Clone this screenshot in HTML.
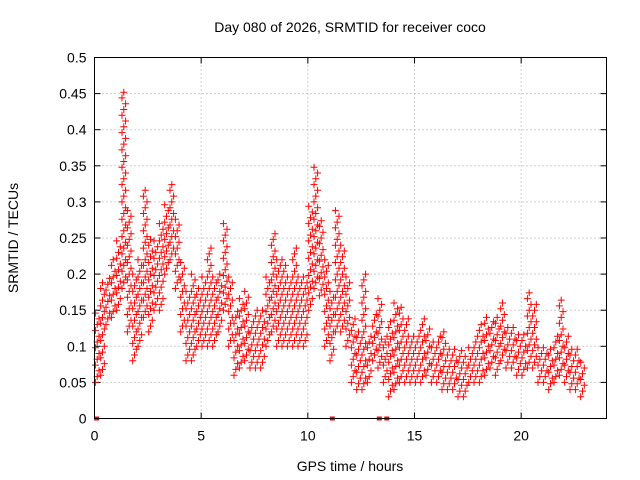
<!DOCTYPE html>
<html><head><meta charset="utf-8"><style>
body{margin:0;background:#fff;}
svg{display:block;font-family:"Liberation Sans",sans-serif;}
</style></head><body>
<svg id="c" width="640" height="480">
<rect width="640" height="480" fill="#fff"/>
<text x="350" y="32" font-size="14" text-anchor="middle">Day 080 of 2026, SRMTID for receiver coco</text>
<text x="350" y="471" font-size="14" text-anchor="middle">GPS time / hours</text>
<text x="18" y="238" font-size="14" text-anchor="middle" transform="rotate(-90 18 238)">SRMTID / TECUs</text>
<g id="grid"></g>
<g id="axes"></g>
<g id="marks"></g>
<rect x="94.5" y="57.5" width="512" height="361" fill="none" stroke="#000"/>
</svg>
<script>
const xTicks=[0,5,10,15,20];
const yTicks=[0,0.05,0.1,0.15,0.2,0.25,0.3,0.35,0.4,0.45,0.5];
const yTickLabels=["0","0.05","0.1","0.15","0.2","0.25","0.3","0.35","0.4","0.45","0.5"];
const binStart=[0,0.25,0.5,0.75,1,1.25,1.5,1.75,2,2.25,2.5,2.75,3,3.25,3.5,3.75,4,4.25,4.5,4.75,5,5.25,5.5,5.75,6,6.25,6.5,6.75,7,7.25,7.5,7.75,8,8.25,8.5,8.75,9,9.25,9.5,9.75,10,10.25,10.5,10.75,11,11.25,11.5,11.75,12,12.25,12.5,12.75,13,13.25,13.5,13.75,14,14.25,14.5,14.75,15,15.25,15.5,15.75,16,16.25,16.5,16.75,17,17.25,17.5,17.75,18,18.25,18.5,18.75,19,19.25,19.5,19.75,20,20.25,20.5,20.75,21,21.25,21.5,21.75,22,22.25,22.5,22.75];
const binLow=[0.05,0.06,0.13,0.14,0.15,0.18,0.12,0.08,0.1,0.14,0.12,0.15,0.15,0.2,0.22,0.18,0.12,0.08,0.08,0.1,0.1,0.1,0.1,0.12,0.15,0.1,0.06,0.07,0.08,0.07,0.07,0.07,0.1,0.12,0.1,0.1,0.1,0.1,0.1,0.1,0.15,0.18,0.17,0.1,0.08,0.12,0.12,0.1,0.05,0.04,0.04,0.05,0.08,0.07,0.05,0.03,0.04,0.05,0.05,0.05,0.05,0.05,0.06,0.05,0.05,0.04,0.04,0.04,0.03,0.03,0.05,0.05,0.05,0.06,0.07,0.06,0.08,0.07,0.07,0.06,0.06,0.07,0.07,0.05,0.05,0.04,0.05,0.06,0.05,0.04,0.04,0.03];
const binHigh=[0.15,0.19,0.2,0.22,0.25,0.46,0.29,0.2,0.22,0.32,0.25,0.25,0.27,0.3,0.33,0.28,0.22,0.18,0.2,0.18,0.2,0.24,0.2,0.2,0.27,0.2,0.15,0.17,0.18,0.14,0.15,0.15,0.2,0.26,0.22,0.22,0.2,0.24,0.2,0.2,0.3,0.35,0.28,0.22,0.18,0.29,0.24,0.2,0.14,0.12,0.2,0.12,0.15,0.17,0.12,0.14,0.16,0.16,0.14,0.12,0.12,0.14,0.13,0.11,0.12,0.12,0.1,0.1,0.1,0.09,0.1,0.12,0.13,0.14,0.14,0.14,0.16,0.13,0.13,0.12,0.12,0.18,0.16,0.1,0.1,0.1,0.12,0.17,0.12,0.1,0.1,0.08];
const zeroTimes=[0.1,11.15,13.35,13.7];
const NS="http://www.w3.org/2000/svg";
const x0=94.5,x1=606.5,y0=418.5,y1=57.5;
const X=t=>x0+t/24*(x1-x0);
const Y=v=>y0-v/0.5*(y0-y1);
function mk(tag,attrs,parent){const e=document.createElementNS(NS,tag);for(const k in attrs)e.setAttribute(k,attrs[k]);parent.appendChild(e);return e;}
const grid=document.getElementById('grid'),axes=document.getElementById('axes'),marks=document.getElementById('marks');
yTicks.forEach((v,i)=>{
  const y=Y(v);
  if(i>0&&i<yTicks.length-1){const g=mk('line',{x1:x0,x2:x1,y1:y,y2:y,stroke:'#a0a0a0','stroke-dasharray':'1,3'},grid);
  
  }
  mk('line',{x1:x0,x2:x0+6,y1:y,y2:y,stroke:'#000'},axes);
  mk('line',{x1:x1-6,x2:x1,y1:y,y2:y,stroke:'#000'},axes);
  const t=mk('text',{x:x0-8,y:y+5,'font-size':14,'text-anchor':'end'},axes);t.textContent=yTickLabels[i];
  
  
});
xTicks.forEach(v=>{
  const x=X(v);
  if(v>0){const g=mk('line',{x1:x,x2:x,y1:y0,y2:y1,stroke:'#a0a0a0','stroke-dasharray':'1,3'},grid);
  
  }
  mk('line',{x1:x,x2:x,y1:y0,y2:y0-6,stroke:'#000'},axes);
  mk('line',{x1:x,x2:x,y1:y1,y2:y1+6,stroke:'#000'},axes);
  const t=mk('text',{x:x,y:y0+22,'font-size':14,'text-anchor':'middle'},axes);t.textContent=String(v);
  
  
});
let d='';
function plus(px,py){d+=`M${(px-3.5).toFixed(1)} ${py.toFixed(1)}h7M${px.toFixed(1)} ${(py-3.5).toFixed(1)}v7`;}
binStart.forEach((t,i)=>{
  const lo=binLow[i],hi=binHigh[i];
  for(let s=0;s<3;s++){
    const px=X(t+0.04+s*0.085);
    const off=s*0.008;
    for(let v=lo+off;v<=hi;v+=0.024)plus(px,Y(v));
  }
});
const p=mk('path',{d:d,stroke:'#ff0000','stroke-width':1,fill:'none'},marks);


zeroTimes.forEach(t=>{
  const z=mk('rect',{x:X(t)-2.5,y:Y(0)-2,width:5,height:4,fill:'#ff0000'},marks);
  
  
});
</script>
</body></html>
